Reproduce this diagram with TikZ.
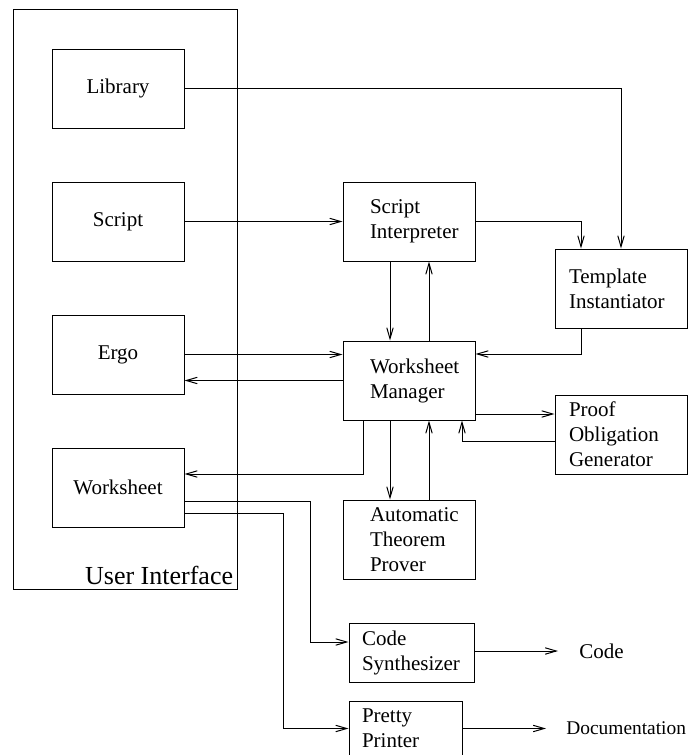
\documentclass[tikz,border=0pt]{standalone}
\usepackage{fontspec}
\setmainfont{Liberation Serif}
\usetikzlibrary{arrows.meta,positioning}

\begin{document}
\begin{tikzpicture}[
    x=0.5pt, y=-0.5pt,
    node distance=26.5pt and 39.5pt,
    every node/.style={font=\fontsize{10.5}{12.5}\selectfont},
    frame/.style={draw, line width=0.5pt, minimum width=112pt, minimum height=290pt},
    uibox/.style={draw, line width=0.5pt, minimum width=66pt, minimum height=39.5pt, align=center},
    module/.style={draw, line width=0.5pt, minimum width=66pt, minimum height=39.5pt, inner xsep=0pt, inner ysep=0pt, text width=#1, align=left},
    arrow/.style={-{Straight Barb[length=5.5pt,width=3.2pt]}, line width=0.5pt},
    outlabel/.style={inner xsep=10.5pt, anchor=west}
]
\useasboundingbox (0,0) rectangle (689,755);

% User Interface
\node[frame] (ui) at (125,299) {};
\node[anchor=south east, inner sep=2pt, font=\fontsize{13}{15}\selectfont] (uilabel) at (ui.south east) {User Interface};

\node[uibox] (library) at (118,88.5) {Library};
\node[uibox, below=of library] (script) {Script};
\node[uibox, below=of script] (ergo) {Ergo};
\node[uibox, below=of ergo] (worksheet) {Worksheet};

% Interpreter column
\node[module=39pt, right=79pt of script] (interp) {Script\\Interpreter};
\node[module=39pt, below=39.5pt of interp] (manager) {Worksheet\\Manager};
\node[module=39pt, below=39.5pt of manager] (prover) {Automatic\\Theorem\\Prover};

% Side modules
\node[module=52pt, below right=-6.5pt and 39.5pt of interp] (template) {Template\\Instantiator};
\node[module=52pt, below right=-13pt and 39.5pt of manager] (proof) {Proof\\Obligation\\Generator};

% Output generators
\node[module=49.5pt, minimum width=62.5pt, minimum height=29.5pt] (synth) at (411.5,652.5) {Code\\Synthesizer};
\node[module=43.5pt, minimum width=56.5pt, minimum height=27pt] (pretty) at (405.5,728.5) {Pretty\\Printer};
\node[outlabel] (code) at (558,651) {Code};
\node[outlabel, inner xsep=10pt, font=\fontsize{9.7}{12}\selectfont] (doc) at (546,728.5) {Documentation};

% Arrows
\draw[arrow] (library) -| (template);
\draw[arrow] (script) -- (interp);
\draw[arrow] (interp) -| ([xshift=-20pt]template.north);
\draw[arrow] ([xshift=-9.5pt]interp.south) -- ([xshift=-9.5pt]manager.north);
\draw[arrow] ([xshift=10pt]manager.north) -- ([xshift=10pt]interp.south);
\draw[arrow] ([xshift=-20pt]template.south) |- ([yshift=13.25pt]manager.east);
\draw[arrow] (ergo.east) -- (ergo.east -| manager.west);
\draw[arrow] (manager.west) -- (manager.west -| ergo.east);
\draw[arrow] ([xshift=-23pt]manager.south) |- ([yshift=6.75pt]worksheet.east);
\draw[arrow] ([yshift=-16.75pt]manager.east) -- ([yshift=-16.75pt]manager.east -| proof.west);
\draw[arrow] ([yshift=-3.25pt]proof.west) -| ([xshift=26.5pt]manager.south);
\draw[arrow] ([xshift=-9.5pt]manager.south) -- ([xshift=-9.5pt]prover.north);
\draw[arrow] ([xshift=10pt]prover.north) -- ([xshift=10pt]manager.south);
\draw[arrow] ([yshift=-6.75pt]worksheet.east) -- ++(126,0) |- ([yshift=5.25pt]synth.west);
\draw[arrow] ([yshift=-12.75pt]worksheet.east) -- ++(99,0) |- (pretty.west);
\draw[arrow] (code.west -| synth.east) -- (code.west);
\draw[arrow] (pretty) -- (doc);

\end{tikzpicture}
\end{document}
